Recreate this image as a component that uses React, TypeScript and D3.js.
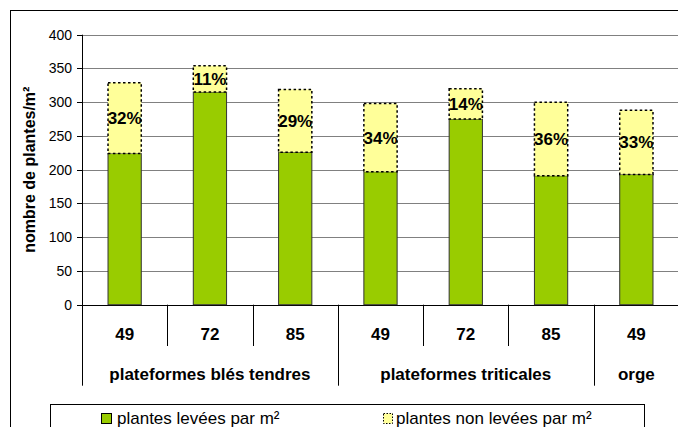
import React from "react";
import * as d3 from "d3";

const categories = ["49", "72", "85", "49", "72", "85", "49"];
const groups = [
  { label: "plateformes blés tendres", start: 0, end: 3 },
  { label: "plateformes triticales", start: 3, end: 6 },
  { label: "orge", start: 6, end: 7 },
];
const levees = [224, 315, 226, 197, 275, 191, 193];
const nonLevees = [105, 39, 93, 101, 45, 109, 95];
const pctLabels = ["32%", "11%", "29%", "34%", "14%", "36%", "33%"];
const yTicks = [0, 50, 100, 150, 200, 250, 300, 350, 400];
const seriesNames = ["plantes levées par m²", "plantes non levées par m²"];

const W = 678;
const H = 427;
const FONT = "'Liberation Sans', Arial, sans-serif";
const GREEN = "#99CC00";
const YELLOW = "#FFFF99";

export default function App() {
  const left = 82;
  const right = 679;
  const top = 34.7;
  const bottom = 304.7;

  const x = d3
    .scaleBand<number>()
    .domain(d3.range(categories.length))
    .range([left, right])
    .paddingInner(0.61)
    .paddingOuter(0.305);
  const step = x.step();
  const y = d3.scaleLinear().domain([0, 400]).range([bottom, top]);

  const boundary = (i: number) => left + i * step;
  const groupEdges = new Set<number>();
  groups.forEach((g) => {
    groupEdges.add(g.start);
    groupEdges.add(g.end);
  });

  return (
    <svg
      width={W}
      height={H}
      style={{ position: "absolute", left: 0, top: 0, background: "#fff" }}
      fontFamily={FONT}
    >
      <rect x={0} y={0} width={W} height={H} fill="#fff" />
      {/* outer frame */}
      <rect x={10.5} y={10.5} width={W + 10} height={H + 10} fill="none" stroke="#000" strokeWidth={1} />

      {/* gridlines */}
      {yTicks.map((t) => (
        <line
          key={"g" + t}
          x1={left}
          x2={right}
          y1={Math.round(y(t)) + 0.5}
          y2={Math.round(y(t)) + 0.5}
          stroke={t === 0 ? "#000" : "#808080"}
          strokeWidth={1}
        />
      ))}

      {/* y ticks */}
      {yTicks.map((t) => (
        <g key={"t" + t}>
          <line x1={left - 5} x2={left} y1={Math.round(y(t)) + 0.5} y2={Math.round(y(t)) + 0.5} stroke="#000" />
          <text x={left - 10} y={y(t)} dy="0.35em" textAnchor="end" fontSize={14} fill="#000">
            {t}
          </text>
        </g>
      ))}

      {/* bars */}
      {categories.map((c, i) => {
        const bx = x(i)!;
        const bw = x.bandwidth();
        const g0 = y(0);
        const g1 = y(levees[i]);
        const t1 = y(levees[i] + nonLevees[i]);
        return (
          <g key={"b" + i}>
            <rect x={bx} y={g1} width={bw} height={g0 - g1} fill={GREEN} stroke="#333" strokeWidth={1} />
            <rect
              x={bx}
              y={t1}
              width={bw}
              height={g1 - t1}
              fill={YELLOW}
              stroke="#000"
              strokeWidth={1.5}
              strokeDasharray="2.5,2.5"
            />
            <text
              x={bx + bw / 2}
              y={(g1 + t1) / 2}
              dy="0.36em"
              textAnchor="middle"
              fontSize={17}
              fontWeight="bold"
              fill="#000"
            >
              {pctLabels[i]}
            </text>
          </g>
        );
      })}

      {/* y axis line */}
      <line x1={left + 0.5} x2={left + 0.5} y1={top} y2={385.7} stroke="#000" />

      {/* x axis separators */}
      {d3.range(1, categories.length + 1).map((i) => (
        <line
          key={"s" + i}
          x1={Math.round(boundary(i)) + 0.5}
          x2={Math.round(boundary(i)) + 0.5}
          y1={bottom}
          y2={groupEdges.has(i) ? 385.7 : 346}
          stroke="#000"
        />
      ))}

      {/* category labels */}
      {categories.map((c, i) => (
        <text
          key={"c" + i}
          x={x(i)! + x.bandwidth() / 2}
          y={334}
          dy="0.35em"
          textAnchor="middle"
          fontSize={17}
          fontWeight="bold"
        >
          {c}
        </text>
      ))}

      {/* group labels */}
      {groups.map((g) => (
        <text
          key={g.label}
          x={(boundary(g.start) + boundary(g.end)) / 2}
          y={374}
          dy="0.35em"
          textAnchor="middle"
          fontSize={17}
          fontWeight="bold"
        >
          {g.label}
        </text>
      ))}

      {/* y title */}
      <text
        transform={`translate(29,${(top + bottom) / 2}) rotate(-90)`}
        textAnchor="middle"
        dy="0.35em"
        fontSize={16}
        fontWeight="bold"
      >
        nombre de plantes/m²
      </text>

      {/* legend */}
      <rect x={50.5} y={404.5} width={594} height={40} fill="#fff" stroke="#000" />
      <rect x={101.5} y={413.5} width={10} height={10} fill={GREEN} stroke="#000" />
      <text x={117} y={418.5} dy="0.35em" fontSize={17}>
        {seriesNames[0]}
      </text>
      <rect
        x={383.5}
        y={413.5}
        width={9}
        height={10}
        fill={YELLOW}
        stroke="#000"
        strokeDasharray="1.5,1.5"
      />
      <text x={396} y={418.5} dy="0.35em" fontSize={17}>
        {seriesNames[1]}
      </text>
    </svg>
  );
}
